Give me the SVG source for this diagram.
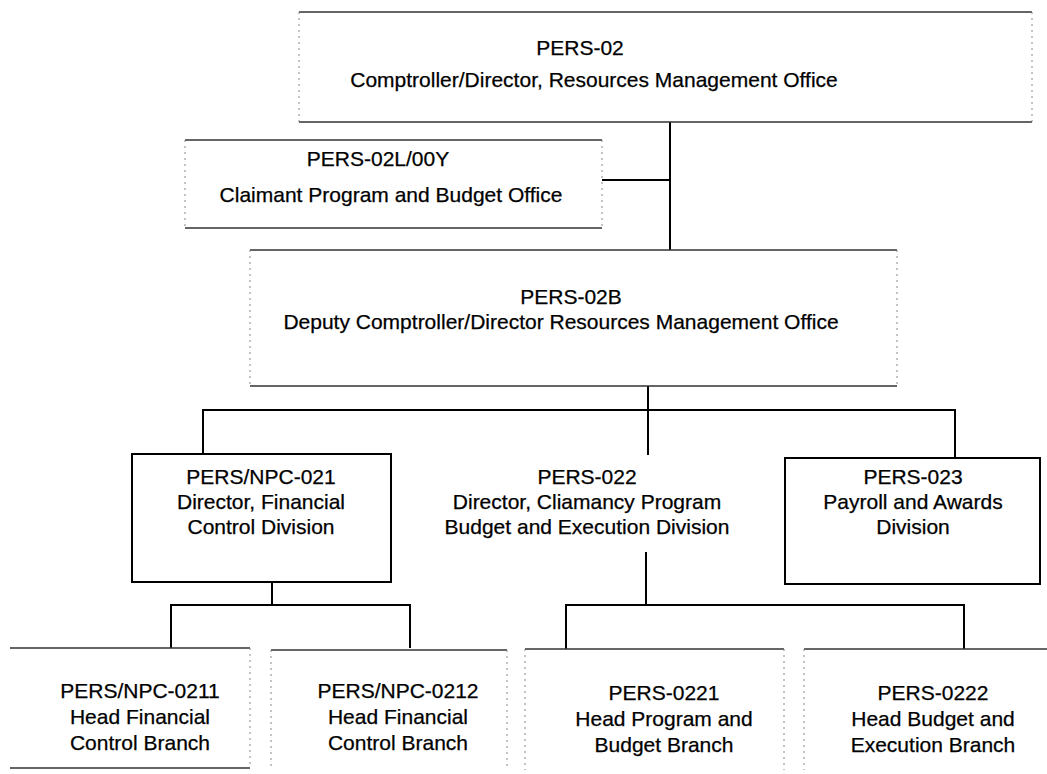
<svg xmlns="http://www.w3.org/2000/svg" width="1047" height="774" viewBox="0 0 1047 774">
<style>
.t{font-family:"Liberation Sans",Arial,sans-serif;font-size:21px;fill:#000;stroke:#000;stroke-width:0.25;text-anchor:middle}
.hb{stroke:#333;stroke-width:1.5;fill:none}
.sd{stroke:#888;stroke-width:1;stroke-dasharray:2 4;fill:none}
.bx{stroke:#000;stroke-width:2;fill:#fff}
.c{stroke:#000;stroke-width:2;fill:none}
</style>
<rect width="1047" height="774" fill="#fff"/>
<g id="connectors">
<path class="c" d="M670 122V250M602 180H670"/>
<path class="c" d="M648 386V455M203 454V410H955V458"/>
<path class="c" d="M272 582V605M171 648V605H410V648"/>
<path class="c" d="M646 552V605M566 649V605H964V649"/>
</g>
<g id="pers02">
<path class="hb" d="M299 12H1032M299 122H1032"/>
<path class="sd" d="M299 12V122M1032 12V122"/>
<text class="t" x="580" y="55">PERS-02</text>
<text class="t" x="594" y="87">Comptroller/Director, Resources Management Office</text>
</g>
<g id="pers02l">
<path class="hb" d="M185 140H602M185 228H602"/>
<path class="sd" d="M185 140V228M602 140V228"/>
<text class="t" x="378" y="166">PERS-02L/00Y</text>
<text class="t" x="391" y="202">Claimant Program and Budget Office</text>
</g>
<g id="pers02b">
<path class="hb" d="M250 250H897M250 386H897"/>
<path class="sd" d="M250 250V386M897 250V386"/>
<text class="t" x="571" y="304">PERS-02B</text>
<text class="t" x="561" y="329">Deputy Comptroller/Director Resources Management Office</text>
</g>
<g id="pers021">
<rect class="bx" x="132" y="454" width="259" height="128"/>
<text class="t" x="261" y="484">PERS/NPC-021</text>
<text class="t" x="261" y="509">Director, Financial</text>
<text class="t" x="261" y="534">Control Division</text>
</g>
<g id="pers022">
<text class="t" x="587" y="484">PERS-022</text>
<text class="t" x="587" y="509">Director, Cliamancy Program</text>
<text class="t" x="587" y="534">Budget and Execution Division</text>
</g>
<g id="pers023">
<rect class="bx" x="785" y="458" width="255" height="126"/>
<text class="t" x="913" y="484">PERS-023</text>
<text class="t" x="913" y="509">Payroll and Awards</text>
<text class="t" x="913" y="534">Division</text>
</g>
<g id="pers0211">
<path class="hb" d="M10 648H250M10 768H250"/>
<path class="sd" d="M250 648V768"/>
<text class="t" x="140" y="698">PERS/NPC-0211</text>
<text class="t" x="140" y="724">Head Financial</text>
<text class="t" x="140" y="750">Control Branch</text>
</g>
<g id="pers0212">
<path class="hb" d="M271 650H507"/>
<path class="sd" d="M271 650V770M507 650V770"/>
<text class="t" x="398" y="698">PERS/NPC-0212</text>
<text class="t" x="398" y="724">Head Financial</text>
<text class="t" x="398" y="750">Control Branch</text>
</g>
<g id="pers0221">
<path class="hb" d="M525 649H784"/>
<path class="sd" d="M525 649V770M784 649V770"/>
<text class="t" x="664" y="700">PERS-0221</text>
<text class="t" x="664" y="726">Head Program and</text>
<text class="t" x="664" y="752">Budget Branch</text>
</g>
<g id="pers0222">
<path class="hb" d="M804 649H1047"/>
<path class="sd" d="M804 649V770"/>
<text class="t" x="933" y="700">PERS-0222</text>
<text class="t" x="933" y="726">Head Budget and</text>
<text class="t" x="933" y="752">Execution Branch</text>
</g>
</svg>
